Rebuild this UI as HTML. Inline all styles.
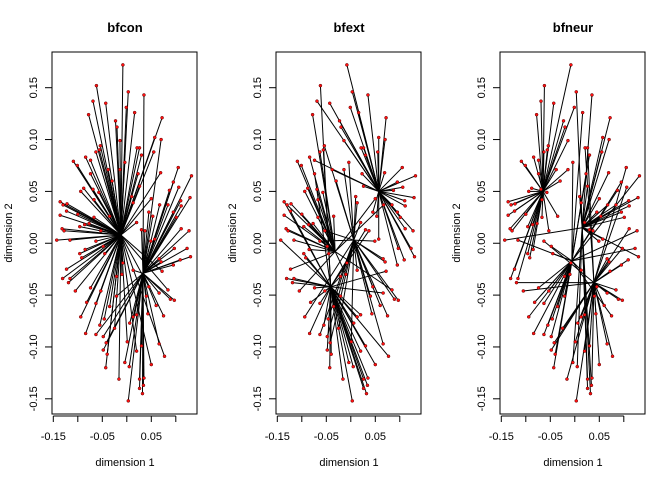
<!DOCTYPE html>
<html><head><meta charset="utf-8"><style>
html,body{margin:0;padding:0;background:#fff;}
svg text{font-family:"Liberation Sans",Arial,sans-serif;fill:#000;}
</style></head><body>
<svg id="chart" width="672" height="480" xmlns="http://www.w3.org/2000/svg"></svg>
<script>
const panelTitles = ["bfcon","bfext","bfneur"];
const xTicks = [-0.15,-0.10,-0.05,0,0.05,0.10];
const xTickLabels = ["-0.15","","-0.05","","0.05",""];
const yTicks = [-0.15,-0.10,-0.05,0,0.05,0.10,0.15];
const yTickLabels = ["-0.15","-0.10","-0.05","0.00","0.05","0.10","0.15"];
const pointsX = [-0.008,-0.062,0.003,0.035,-0.069,-0.043,-0.001,-0.078,0.016,0.072,-0.023,-0.020,0.057,0.070,-0.014,-0.054,0.021,0.026,-0.063,-0.056,0.055,0.030,-0.109,-0.084,-0.074,-0.101,-0.004,0.105,0.069,-0.074,0.023,-0.038,0.132,0.095,-0.094,-0.088,-0.069,-0.057,0.106,0.087,0.129,-0.136,-0.130,-0.122,-0.067,0.050,0.110,0.111,0.084,0.067,-0.123,-0.136,-0.100,0.095,0.101,-0.067,-0.086,-0.077,-0.096,-0.132,-0.128,0.111,0.127,0.030,0.037,-0.053,-0.143,-0.116,-0.063,0.049,0.057,0.097,0.123,0.130,-0.096,-0.092,-0.085,0.109,0.066,0.070,0.095,-0.123,-0.131,-0.116,-0.119,-0.105,-0.074,-0.053,0.072,0.045,0.084,0.066,0.089,0.097,-0.082,-0.063,-0.094,-0.046,-0.025,-0.055,0.075,0.043,0.020,-0.084,-0.063,-0.048,-0.042,-0.048,0.066,0.077,-0.040,0.001,0.030,0.020,-0.043,-0.004,0.005,0.050,-0.016,0.026,0.035,0.034,0.026,0.032,0.003,-0.021,0.013,0.040,0.013,-0.008,-0.035,0.026,-0.014,0.013,-0.048,0.053,-0.021,0.006,-0.035,-0.030,0.010,0.045,-0.010,0.020,0.060,-0.045];
const pointsY = [0.172,0.152,0.146,0.143,0.137,0.135,0.131,0.124,0.126,0.121,0.118,0.112,0.102,0.100,0.099,0.094,0.092,0.092,0.088,0.090,0.088,0.085,0.079,0.083,0.080,0.075,0.078,0.073,0.068,0.067,0.067,0.071,0.065,0.059,0.050,0.053,0.052,0.049,0.054,0.051,0.044,0.040,0.037,0.038,0.042,0.043,0.041,0.036,0.037,0.037,0.031,0.027,0.028,0.030,0.025,0.025,0.018,0.019,0.016,0.014,0.012,0.014,0.012,0.013,0.012,0.012,0.003,0.003,0.002,0.002,0.004,-0.005,-0.005,-0.013,-0.010,-0.014,-0.006,-0.016,-0.015,-0.018,-0.021,-0.025,-0.034,-0.034,-0.038,-0.046,-0.043,-0.046,-0.027,-0.042,-0.045,-0.048,-0.054,-0.055,-0.057,-0.058,-0.071,-0.073,-0.082,-0.079,-0.070,-0.068,-0.069,-0.087,-0.088,-0.090,-0.096,-0.103,-0.097,-0.109,-0.107,-0.095,-0.099,-0.104,-0.120,-0.115,-0.119,-0.117,-0.131,-0.131,-0.130,-0.137,-0.140,-0.145,-0.152,-0.032,-0.026,-0.051,-0.071,-0.019,0.026,0.055,0.071,0.039,-0.003,0.026,-0.051,-0.077,-0.061,0.060,0.045,0.030,-0.030,0.020,-0.060,-0.010];
const centersX = [[-0.012,0.033],[0.057,0.006,-0.032,-0.041],[-0.065,0.015,-0.006,0.039]];
const centersY = [[0.008,-0.029],[0.050,0.003,-0.008,-0.042],[0.050,0.015,-0.017,-0.038]];
const groupOverrides1 = {3:1,13:1,27:1,33:1,53:1,61:1,62:1,97:0,104:1,98:0,106:1,103:0,110:0,109:0,111:0,117:0,118:0,113:0,114:0,96:0,100:1,88:0,90:0,123:1,124:1,120:1,89:0,115:1};
const groupOverrides2 = {0:0,4:0,5:0,10:0,11:0,14:0,7:2,1:3,19:3,23:2,24:0,31:0,15:1,29:3,26:1,96:1,97:1,98:1,104:1,105:1,106:1,111:1,114:3,115:3,116:3,118:3,119:3,120:3,121:3,122:3,123:3,124:3,88:3,90:2,91:3,109:3,110:3,41:3,42:2,50:3,51:2,81:2,85:2,65:1,68:1,45:2,49:2,63:3,64:3};
const groupOverrides3 = {2:1,3:1,6:0,8:2,9:1,12:1,13:1,16:3,17:3,21:2,26:2,30:2,32:2,27:3,33:2,38:3,39:2,66:1,67:2,68:3,84:3,85:3,86:2,96:2,97:2,98:3,99:2,100:2,104:2,105:2,106:3,107:3,112:3,115:1,116:1,119:1,121:1,122:1,123:1,62:2,72:2,73:1};
const groupOverrides = [groupOverrides1,groupOverrides2,groupOverrides3];

const NS="http://www.w3.org/2000/svg";
const svg=document.getElementById('chart');
function mk(tag,attrs,parent){const e=document.createElementNS(NS,tag);for(const k in attrs)e.setAttribute(k,attrs[k]);(parent||svg).appendChild(e);return e;}
const boxL=52,boxR=197,boxT=52,boxB=414;
function sx(v,off){return off+53.3+(v+0.15)*490;}
function sy(v){return 87.7+(0.15-v)*1037;}

panelTitles.forEach((t,p)=>{
  const off=p*224;
  const g=mk('g',{});
  
  
  const title=mk('text',{x:off+125,y:32,'text-anchor':'middle','font-size':13,'font-weight':'bold'},g);
  title.textContent=t;
  
  
  const eg=mk('g',{stroke:'#000','stroke-width':1},g);
  
  
  const cx=centersX[p],cy=centersY[p],ov=groupOverrides[p];
  pointsX.forEach((x,i)=>{
    const y=pointsY[i];let best=0,bd=1e9;
    for(let k=0;k<cx.length;k++){const d=(x-cx[k])**2+(y-cy[k])**2;if(d<bd){bd=d;best=k;}}
    if(ov[i]!==undefined)best=ov[i];
    const l=mk('line',{x1:sx(x,off),y1:sy(y),x2:sx(cx[best],off),y2:sy(cy[best])},eg);
    
    
  });
  const pg=mk('g',{fill:'#ff1010',stroke:'#500','stroke-width':0.5},g);
  
  
  pointsX.forEach((x,i)=>{
    const c=mk('circle',{cx:sx(x,off),cy:sy(pointsY[i]),r:1.5},pg);
    
    
  });
  const box=mk('rect',{x:off+boxL,y:boxT,width:boxR-boxL,height:boxB-boxT,fill:'none',stroke:'#000','stroke-width':1},g);
  
  
  const xa=mk('g',{},g);
  
  
  mk('line',{x1:sx(xTicks[0],off),x2:sx(xTicks[xTicks.length-1],off),y1:416,y2:416,stroke:'#000'},xa);
  xTicks.forEach((v,i)=>{
    mk('line',{x1:sx(v,off),x2:sx(v,off),y1:416,y2:422,stroke:'#000'},xa);
    if(xTickLabels[i]){const tt=mk('text',{x:sx(v,off),y:440,'text-anchor':'middle','font-size':11},xa);tt.textContent=xTickLabels[i];
      
      }
  });
  const xt=mk('text',{x:off+125,y:466,'text-anchor':'middle','font-size':11},g);
  xt.textContent='dimension 1';
  
  
  const ya=mk('g',{},g);
  
  
  yTicks.forEach((v,i)=>{
    mk('line',{x1:off+45,x2:off+52,y1:sy(v),y2:sy(v),stroke:'#000'},ya);
    const tt=mk('text',{x:0,y:0,'text-anchor':'middle','font-size':11,transform:`translate(${off+37},${sy(v)}) rotate(-90)`},ya);
    tt.textContent=yTickLabels[i];
    
    
  });
  const yt=mk('text',{x:0,y:0,'text-anchor':'middle','font-size':11,transform:`translate(${off+12},${(boxT+boxB)/2}) rotate(-90)`},g);
  yt.textContent='dimension 2';
  
  
});
</script>
</body></html>
